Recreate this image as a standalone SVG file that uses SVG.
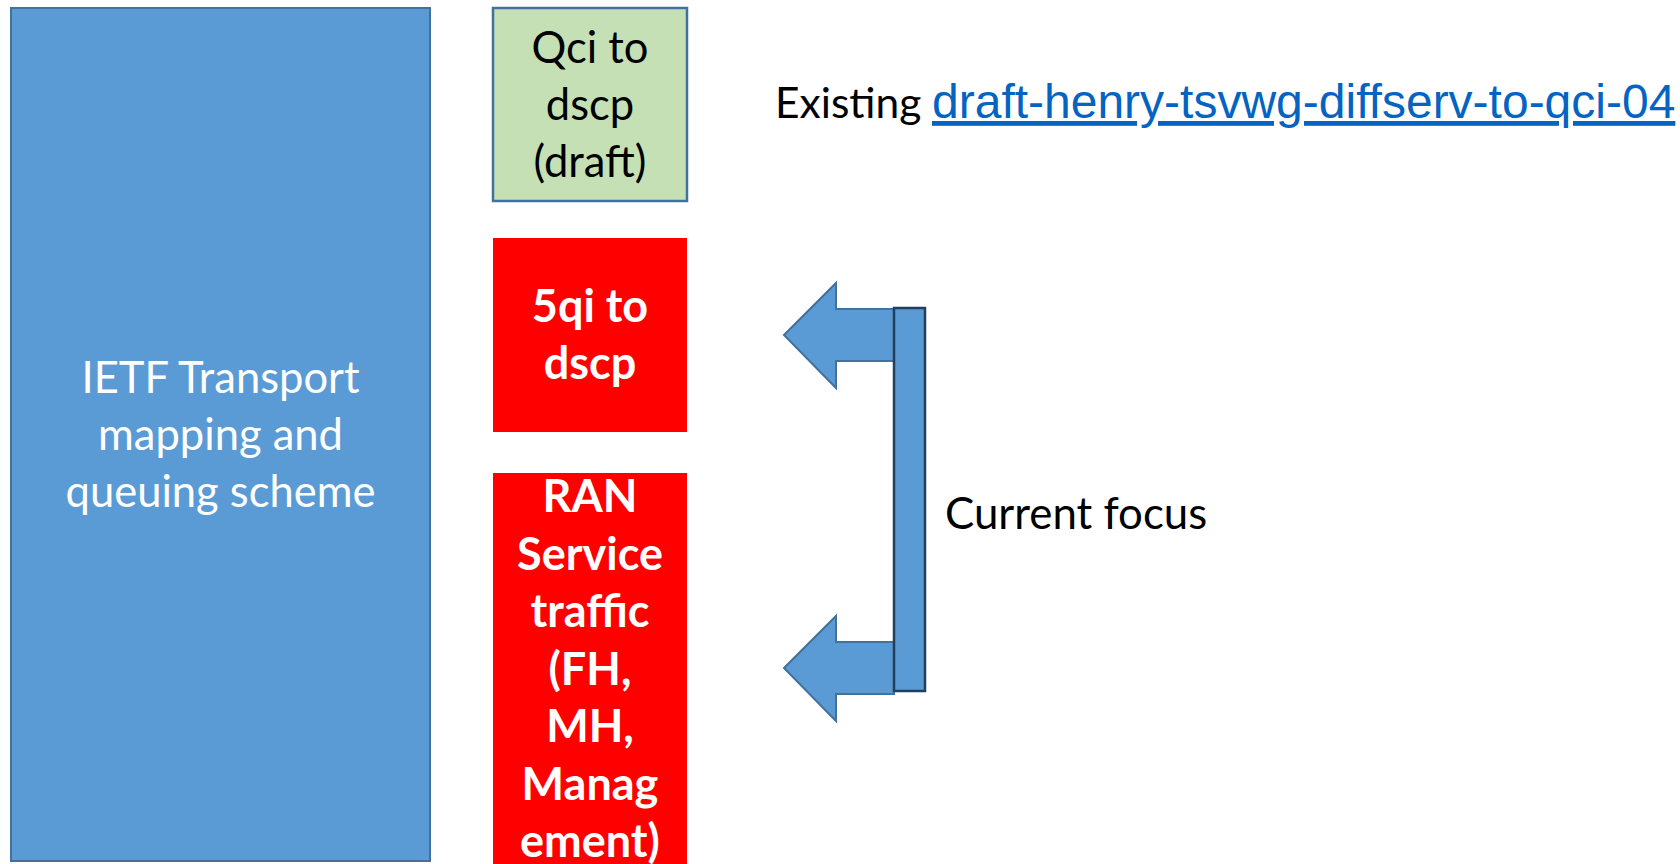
<svg xmlns="http://www.w3.org/2000/svg" width="1680" height="864" viewBox="0 0 1680 864">
  <style>
    .cal { font-family: Lato, "Open Sans", sans-serif; font-size: 43.5px; text-anchor: middle; }
    .white { fill: #FFFFFF; }
    .black { fill: #000000; }
    .bold { font-weight: bold; font-size: 45px; }
    .label { font-family: Lato, "Open Sans", sans-serif; font-size: 42.5px; fill: #000000; }
    .focus { font-size: 43.8px; }
    .link { font-family: "Liberation Sans", Arial, sans-serif; font-size: 48px; fill: #0563C1; text-decoration: underline; }
    .arrow { fill: #5B9BD5; stroke: #41719C; stroke-width: 2; stroke-linejoin: miter; }
    .bar { fill: #5B9BD5; stroke: #223F5E; stroke-width: 2.5; }
  </style>
  <rect width="1680" height="864" fill="#FFFFFF"/>

  <g id="ietf-transport">
    <rect x="11" y="8" width="419" height="853" fill="#5B9BD5" stroke="#41719C" stroke-width="2"/>
    <text class="cal white" x="220.5" y="393">IETF Transport</text>
    <text class="cal white" x="220.5" y="450">mapping and</text>
    <text class="cal white" x="220.5" y="507">queuing scheme</text>
  </g>

  <g id="qci-to-dscp">
    <rect x="493" y="8" width="194" height="193" fill="#C5E0B4" stroke="#41719C" stroke-width="2.5"/>
    <text class="cal black" x="590" y="63">Qci to</text>
    <text class="cal black" x="590" y="120">dscp</text>
    <text class="cal black" x="590" y="177">(draft)</text>
  </g>

  <g id="5qi-to-dscp">
    <rect x="493" y="238" width="194" height="194" fill="#FF0000"/>
    <text class="cal white bold" x="590" y="322">5qi to</text>
    <text class="cal white bold" x="590" y="379">dscp</text>
  </g>

  <g id="ran-service-traffic">
    <rect x="493" y="473" width="194" height="400" fill="#FF0000"/>
    <text class="cal white bold" x="590" y="512">RAN</text>
    <text class="cal white bold" x="590" y="569.5">Service</text>
    <text class="cal white bold" x="590" y="627">traffic</text>
    <text class="cal white bold" x="590" y="684.5">(FH,</text>
    <text class="cal white bold" x="590" y="742">MH,</text>
    <text class="cal white bold" x="590" y="799.5">Manag</text>
    <text class="cal white bold" x="590" y="857">ement)</text>
  </g>

  <g id="existing-draft">
    <text class="label" x="775" y="118">Existing</text>
    <text class="link" x="932" y="118">draft-henry-tsvwg-diffserv-to-qci-04</text>
  </g>

  <g id="current-focus">
    <text class="label focus" x="945" y="529">Current focus</text>
  </g>

  <g id="connectors">
    <polygon class="arrow" points="784,335 836,283 836,309 894,309 894,361 836,361 836,388"/>
    <polygon class="arrow" points="784,668 836,616 836,642 894,642 894,694 836,694 836,721"/>
    <rect class="bar" x="894" y="308" width="31" height="383"/>
  </g>
</svg>
